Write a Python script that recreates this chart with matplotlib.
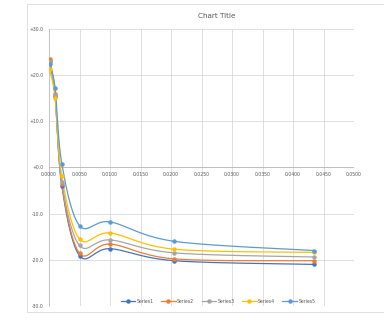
import numpy as np
import matplotlib
matplotlib.use('Agg')
import matplotlib.pyplot as plt
from matplotlib.patches import Rectangle
from matplotlib.ticker import FuncFormatter, MultipleLocator

# data
x_vals = [0.0001, 0.0010, 0.0021, 0.0050, 0.0100, 0.0205, 0.0435]
series_names = ['Series1', 'Series2', 'Series3', 'Series4', 'Series5']
series1 = [23.0, 15.5, -4.0, -19.1, -17.6, -20.2, -21.0]
series2 = [23.4, 15.8, -3.6, -18.6, -16.6, -19.8, -20.2]
series3 = [22.8, 15.6, -3.2, -16.9, -15.7, -18.5, -19.4]
series4 = [21.2, 15.0, -1.9, -15.5, -14.2, -17.7, -18.4]
series5 = [22.4, 17.2, 0.8, -12.6, -11.8, -16.0, -18.0]
colors = ['#4472C4', '#ED7D31', '#A5A5A5', '#FFC000', '#5B9BD5']

TXT = '#595959'
GRID = '#D9D9D9'


def smooth(xs, ys, n=40):
    # catmull-rom as bezier, close to the excel smoothed line
    p = np.column_stack([xs, ys]).astype(float)
    ext = np.vstack([p[0], p, p[-1]])
    out = []
    t = np.linspace(0, 1, n)[:, None]
    for i in range(len(p) - 1):
        p0, p1, p2, p3 = ext[i], ext[i + 1], ext[i + 2], ext[i + 3]
        c1 = p1 + (p2 - p0) / 6
        c2 = p2 - (p3 - p1) / 6
        seg = ((1 - t) ** 3) * p1 + 3 * ((1 - t) ** 2) * t * c1 + 3 * (1 - t) * t ** 2 * c2 + t ** 3 * p2
        out.append(seg if i == 0 else seg[1:])
    out = np.vstack(out)
    return out[:, 0], out[:, 1]


fig = plt.figure(figsize=(3.84, 3.27), dpi=100)
fig.patch.set_facecolor('white')

# chart area border
fig.patches.append(Rectangle((27 / 384, 1 - 312 / 327), 357 / 384, 308 / 327,
                             transform=fig.transFigure, fill=False,
                             edgecolor='#D9D9D9', linewidth=0.6))

ax = fig.add_axes([49 / 384, 1 - 306 / 327, 305 / 384, 277.3 / 327])
ax.set_xlim(0, 0.05)
ax.set_ylim(-30, 30)
ax.xaxis.set_major_locator(MultipleLocator(0.005))
ax.yaxis.set_major_locator(MultipleLocator(10))
ax.grid(True, color=GRID, linewidth=0.6)
ax.set_axisbelow(True)

for s in ['top', 'right', 'bottom']:
    ax.spines[s].set_visible(False)
ax.spines['left'].set_color('#BFBFBF')
ax.spines['left'].set_linewidth(0.6)
ax.axhline(0, color='#BFBFBF', linewidth=0.7, zorder=1)

ax.xaxis.set_major_formatter(FuncFormatter(lambda v, p: f'{v:.4f}'))
ax.yaxis.set_major_formatter(FuncFormatter(lambda v, p: f'{v:+.1f}' if v >= 0 else f'{v:.1f}'))
ax.tick_params(length=0, labelsize=3.3, colors=TXT)
ax.tick_params(axis='y', pad=4)
# x labels sit under the zero line
ax.tick_params(axis='x', pad=0)
for lbl in ax.get_xticklabels():
    pass
ax.set_xticklabels([])
for v in np.arange(0, 0.0501, 0.005):
    ax.text(v, -0.9, f'{v:.4f}', ha='center', va='top', fontsize=3.3, color=TXT)

all_series = [series1, series2, series3, series4, series5]
for name, ys, c in zip(series_names, all_series, colors):
    sx, sy = smooth(x_vals, ys)
    ax.plot(sx, sy, color=c, linewidth=0.9, zorder=3)
    ax.plot(x_vals, ys, linestyle='none', marker='o', markersize=2.2, color=c, zorder=4)
    ax.plot([], [], color=c, linewidth=0.9, marker='o', markersize=2.2, label=name)

fig.text(217 / 384, 1 - 16 / 327, 'Chart Title', ha='center', va='center', fontsize=5.2, color=TXT)

leg = ax.legend(loc='lower center', bbox_to_anchor=(218 / 384, 1 - 308 / 327),
                bbox_transform=fig.transFigure, ncol=5, frameon=False,
                fontsize=3.3, handlelength=3.2, columnspacing=1.6, handletextpad=0.3)
for t in leg.get_texts():
    t.set_color(TXT)

fig.savefig('out.png', dpi=100, facecolor='white')
